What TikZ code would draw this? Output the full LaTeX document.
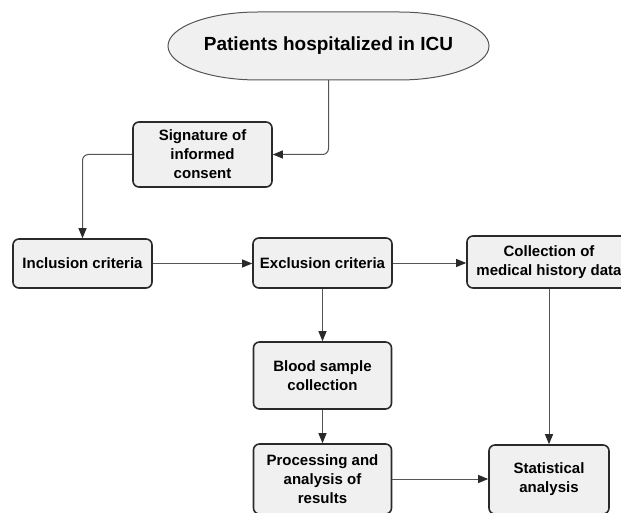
\documentclass[tikz,border=0pt]{standalone}
\usepackage{fontspec}
\setmainfont{Liberation Sans}
\usetikzlibrary{arrows.meta}
\definecolor{boxfill}{HTML}{F0F0F1}
\definecolor{boxline}{HTML}{2A2A2A}
\definecolor{wire}{HTML}{555555}
\tikzset{
  stepbox/.style={draw=boxline, line width=1.6pt, fill=boxfill, rounded corners=6pt,
    align=center, inner sep=0pt, font=\bfseries\fontsize{15}{19}\selectfont},
  startoval/.style={rectangle, inner sep=0pt, font=\bfseries\fontsize{19}{23}\selectfont},
  ovalline/.style={draw=boxline!80, line width=1pt, fill=boxfill},
  wire/.style={draw=wire, line width=1pt, rounded corners=6pt,
    -{Triangle[length=10pt,width=8pt,fill=boxline,color=boxline]}}
}

\begin{document}
\begin{tikzpicture}[x=1pt, y=-1pt]
		%%%%% START %%%%%
		\useasboundingbox (0, 0) rectangle (621, 513);
		\clip (0, 0) rectangle (621, 513);
		
		\draw[ovalline] (168, 46) arc[start angle=180, end angle=270, x radius=90, y radius=34]
			-- (399, 12) arc[start angle=270, end angle=450, x radius=90, y radius=34]
			-- (258, 80) arc[start angle=90, end angle=180, x radius=90, y radius=34] -- cycle;
		\node[startoval, minimum width=321pt, minimum height=68pt] (patients) at (328.5, 46) {Patients hospitalized in ICU};
		
		\node[stepbox, minimum width=139pt, minimum height=65pt] (consent) at (202.5, 154.5) {Signature of\\informed\\consent};
		
		\node[stepbox, minimum width=139pt, minimum height=49pt] (inclusion) at (82.5, 263.5) {Inclusion criteria};
		\node[stepbox, minimum width=139pt, minimum height=50pt] (exclusion) at (322.5, 263) {Exclusion criteria};
		\node[stepbox, minimum width=164pt, minimum height=52pt] (history) at (549, 262) {Collection of\\medical history data};
		
		\node[stepbox, minimum width=138pt, minimum height=67pt] (blood) at (322.5, 375.5) {Blood sample\\collection};
		\node[stepbox, minimum width=138pt, minimum height=70pt] (processing) at (322.5, 479) {Processing and\\analysis of\\results};
		\node[stepbox, minimum width=120pt, minimum height=69pt] (statistics) at (549, 479.5) {Statistical\\analysis};
		
		\draw[wire] (patients.south) |- (consent.east);
		\draw[wire] (consent.west) -| (inclusion.north);
		\draw[wire] (inclusion.east) -- (inclusion.east -| exclusion.west);
		\draw[wire] (exclusion.east) -- (exclusion.east -| history.west);
		\draw[wire] (exclusion.south) -- (blood.north);
		\draw[wire] (blood.south) -- (processing.north);
		\draw[wire] (processing.east) -- (processing.east -| statistics.west);
		\draw[wire] (history.south) -- (statistics.north);
		
		%%%%% END %%%%%
	\end{tikzpicture}
\end{document}
